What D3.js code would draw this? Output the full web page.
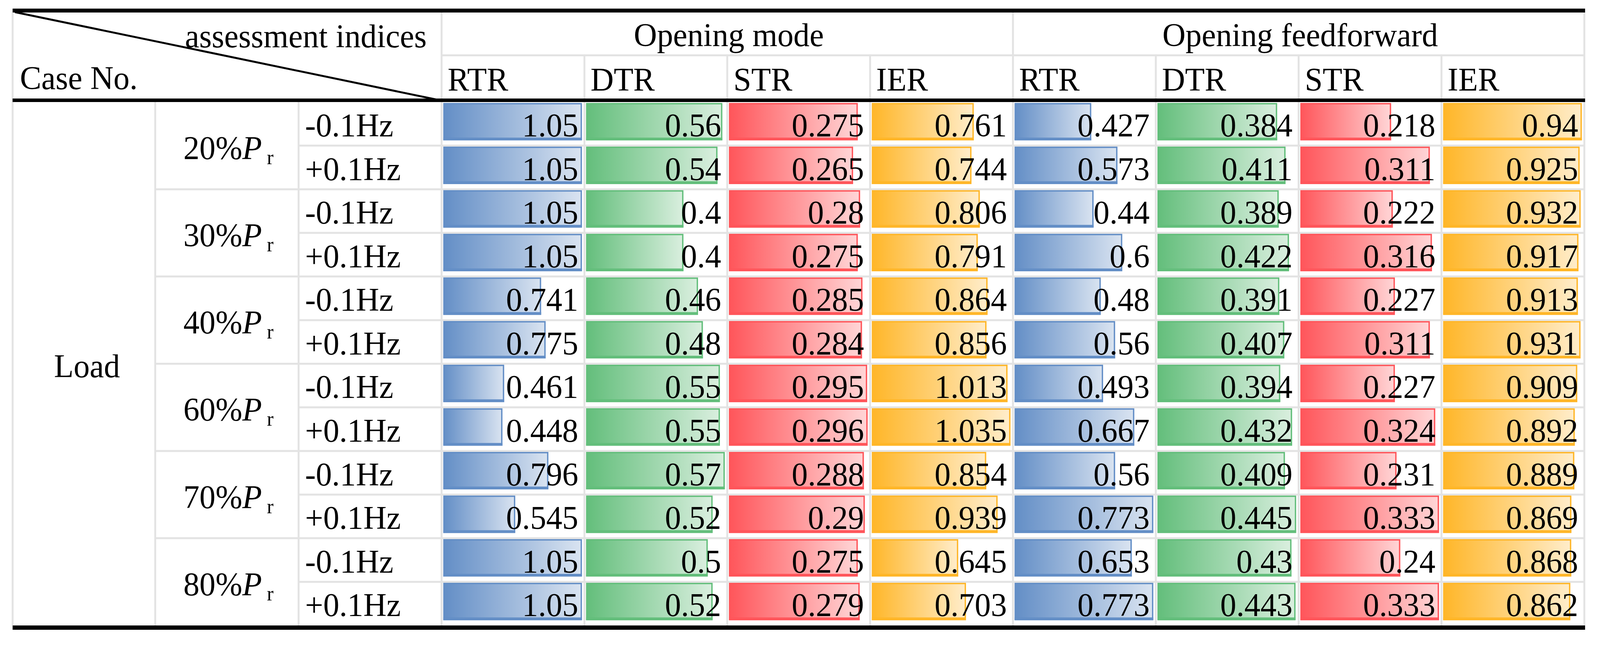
<!DOCTYPE html>
<html>
<head>
<meta charset="utf-8">
<script src="https://cdn.jsdelivr.net/npm/d3@7/dist/d3.min.js"></script>
<style>
  html, body { margin: 0; padding: 0; background: #fff; overflow: hidden; width: 100%; height: 100%; }
  svg { display: block; width: 100vw; height: 100vh; }
  text { font-family: "Liberation Serif", "Times New Roman", serif; fill: #000; }
</style>
</head>
<body>
<svg id="chart" viewBox="0 0 4185 1650" preserveAspectRatio="none"></svg>
<script>
// ---------------- data ----------------
const caseGroup = "Load";
const loadLevels = ["20%", "30%", "40%", "60%", "70%", "80%"];
const freqSteps = ["-0.1Hz", "+0.1Hz"];
const modeGroups = ["Opening mode", "Opening feedforward"];
const indices = ["RTR", "DTR", "STR", "IER"];

const modeRTR = [1.05, 1.05, 1.05, 1.05, 0.741, 0.775, 0.461, 0.448, 0.796, 0.545, 1.05, 1.05];
const modeDTR = [0.56, 0.54, 0.4, 0.4, 0.46, 0.48, 0.55, 0.55, 0.57, 0.52, 0.5, 0.52];
const modeSTR = [0.275, 0.265, 0.28, 0.275, 0.285, 0.284, 0.295, 0.296, 0.288, 0.29, 0.275, 0.279];
const modeIER = [0.761, 0.744, 0.806, 0.791, 0.864, 0.856, 1.013, 1.035, 0.854, 0.939, 0.645, 0.703];
const ffRTR = [0.427, 0.573, 0.44, 0.6, 0.48, 0.56, 0.493, 0.667, 0.56, 0.773, 0.653, 0.773];
const ffDTR = [0.384, 0.411, 0.389, 0.422, 0.391, 0.407, 0.394, 0.432, 0.409, 0.445, 0.43, 0.443];
const ffSTR = [0.218, 0.311, 0.222, 0.316, 0.227, 0.311, 0.227, 0.324, 0.231, 0.333, 0.24, 0.333];
const ffIER = [0.94, 0.925, 0.932, 0.917, 0.913, 0.931, 0.909, 0.892, 0.889, 0.869, 0.868, 0.862];

const barColors = ["#638EC6", "#63BE7B", "#FF555A", "#FFB628"];

// ---------------- layout ----------------
const columns = [modeRTR, modeDTR, modeSTR, modeIER, ffRTR, ffDTR, ffSTR, ffIER];
const nRows = loadLevels.length * freqSteps.length;

const X0 = 33, XR = 4144;
const colEdges = [33, 406, 781, 1155];
const dataColW = (XR - 1155) / 8;
for (let i = 1; i <= 8; i++) colEdges.push(1155 + i * dataColW);

const topLineY = 27, headMidY = 141.5, headBotY = 256.5, bodyTop = 261, bodyBot = 1600, botLineY = 1605.5;
const rowH = (bodyBot - bodyTop) / nRows;
const FS = 84;
const grey = "#E3E3E3";

const svg = d3.select("#chart");
svg.append("rect").attr("width", 4185).attr("height", 1650).attr("fill", "#fff");

// gradients
const defs = svg.append("defs");
barColors.forEach((c, i) => {
  const g = defs.append("linearGradient").attr("id", "grad" + i)
    .attr("x1", "0%").attr("x2", "100%").attr("y1", "0%").attr("y2", "0%");
  g.append("stop").attr("offset", "0%").attr("stop-color", c);
  g.append("stop").attr("offset", "100%").attr("stop-color", d3.interpolateRgb(c, "#ffffff")(0.76));
});

const yRow = d3.scaleLinear().domain([0, nRows]).range([bodyTop, bodyBot]);

// ---------------- grid lines (grey) ----------------
const gridG = svg.append("g").attr("stroke", grey).attr("stroke-width", 5);
[X0, 1155, colEdges[7], XR].forEach(x => {
  gridG.append("line").attr("x1", x).attr("x2", x).attr("y1", 32).attr("y2", bodyBot);
});
[406, 781].forEach(x => {
  gridG.append("line").attr("x1", x).attr("x2", x).attr("y1", bodyTop).attr("y2", bodyBot);
});
[4, 5, 6, 8, 9, 10].forEach(i => {
  gridG.append("line").attr("x1", colEdges[i]).attr("x2", colEdges[i]).attr("y1", headMidY).attr("y2", bodyBot);
});
gridG.append("line").attr("x1", 1155).attr("x2", XR).attr("y1", headMidY).attr("y2", headMidY);
for (let r = 1; r < nRows; r++) {
  const xs = (r % 2 === 0) ? 406 : 781;
  gridG.append("line").attr("x1", xs).attr("x2", XR).attr("y1", yRow(r)).attr("y2", yRow(r));
}

// ---------------- data bars ----------------
const barsG = svg.append("g");
columns.forEach((vals, ci) => {
  const left = colEdges[3 + ci];
  const fullW = dataColW - 11;
  const x = d3.scaleLinear().domain([0, d3.max(vals)]).range([0, fullW]);
  const colorIdx = ci % 4;
  const col = barColors[colorIdx];
  const g = barsG.append("g");
  vals.forEach((v, ri) => {
    const y0 = yRow(ri) + 2.5;
    const h = rowH - 16;
    const w = x(v);
    const bx = left + 4.5;
    g.append("rect").attr("x", bx).attr("y", y0).attr("width", w).attr("height", h)
      .attr("fill", `url(#grad${colorIdx})`);
    g.append("rect").attr("x", bx + 1.75).attr("y", y0 + 1.75).attr("width", Math.max(0, w - 3.5)).attr("height", h - 3.5)
      .attr("fill", "none").attr("stroke", col).attr("stroke-width", 3.5);
    g.append("rect").attr("x", bx).attr("y", y0 + h - 7).attr("width", w).attr("height", 7)
      .attr("fill", col);
    g.append("text").attr("x", left + dataColW - 16).attr("y", yRow(ri) + 88)
      .attr("text-anchor", "end").attr("font-size", FS).text(String(v));
  });
});

// ---------------- body labels ----------------
const labG = svg.append("g").attr("font-size", FS);
labG.append("text").attr("x", (X0 + 406) / 2 + 8).attr("y", 965).attr("text-anchor", "middle").text(caseGroup);
loadLevels.forEach((lv, i) => {
  const t = labG.append("text").attr("x", (406 + 781) / 2 + 4).attr("y", yRow(i * 2) + 146)
    .attr("text-anchor", "middle");
  t.append("tspan").text(lv);
  t.append("tspan").attr("font-style", "italic").text("P");
  t.append("tspan").attr("font-size", 52).attr("dy", 13).text("\u00A0r");
  freqSteps.forEach((f, j) => {
    labG.append("text").attr("x", 798).attr("y", yRow(i * 2 + j) + 88).text(f);
  });
});

// ---------------- header ----------------
const hG = svg.append("g").attr("font-size", FS);
hG.append("text").attr("x", 1116).attr("y", 121).attr("text-anchor", "end").text("assessment indices");
hG.append("text").attr("x", 52).attr("y", 228).text("Case No.");
modeGroups.forEach((m, i) => {
  const l = colEdges[3 + i * 4], r = colEdges[7 + i * 4];
  hG.append("text").attr("x", (l + r) / 2 + 4).attr("y", 118).attr("text-anchor", "middle").text(m);
  indices.forEach((ix, k) => {
    hG.append("text").attr("x", colEdges[3 + i * 4 + k] + 16).attr("y", 232).text(ix);
  });
});

// ---------------- black rules ----------------
const ruleG = svg.append("g").attr("stroke", "#000");
ruleG.append("line").attr("x1", X0).attr("x2", XR + 2).attr("y1", topLineY).attr("y2", topLineY).attr("stroke-width", 10);
ruleG.append("line").attr("x1", X0).attr("x2", XR + 2).attr("y1", headBotY).attr("y2", headBotY).attr("stroke-width", 9);
ruleG.append("line").attr("x1", X0).attr("x2", XR + 2).attr("y1", botLineY).attr("y2", botLineY).attr("stroke-width", 11);
ruleG.append("line").attr("x1", X0 + 6).attr("y1", 31).attr("x2", 1153).attr("y2", 257).attr("stroke-width", 5);
</script>
</body>
</html>
